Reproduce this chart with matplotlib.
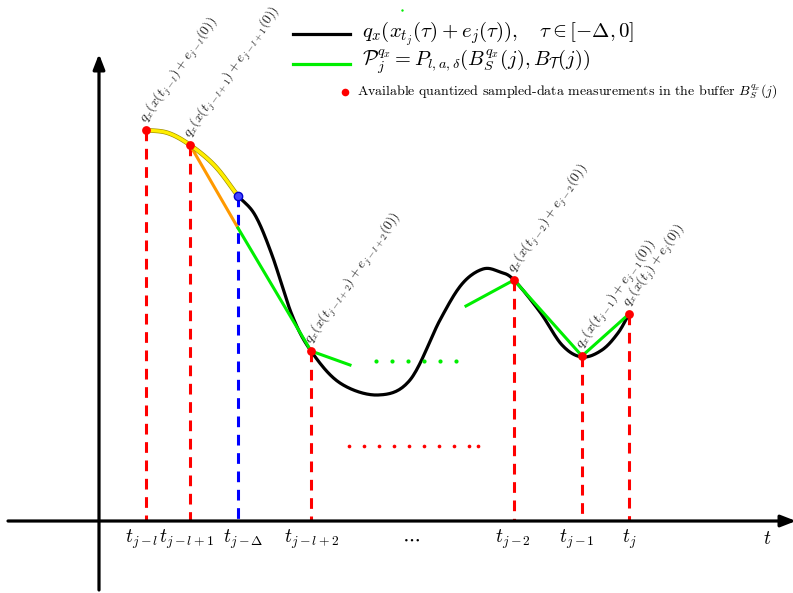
import numpy as np
import matplotlib
matplotlib.use("Agg")
import matplotlib.pyplot as plt
import matplotlib.patheffects as pe

plt.rcParams['mathtext.fontset'] = 'cm'
plt.rcParams['font.family'] = ['cmr10', 'DejaVu Serif']
plt.rcParams['axes.unicode_minus'] = False

# ---- data (pixel-space schematic) ----
sample_x = [146, 190, 311, 514, 582, 629]
sample_y = [130, 145, 351, 280, 356, 314]
sample_labels = [r'$q_x(x(t_{j-l})+e_{j-l}(0))$',
                 r'$q_x(x(t_{j-l+1})+e_{j-l+1}(0))$',
                 r'$q_x(x(t_{j-l+2})+e_{j-l+2}(0))$',
                 r'$q_x(x(t_{j-2})+e_{j-2}(0))$',
                 r'$q_x(x(t_{j-1})+e_{j-1}(0))$',
                 r'$q_x(x(t_{j})+e_{j}(0))$']
delta_x, delta_y = 238, 196

curve_x = [238, 255, 272, 292, 311, 340, 378, 410, 440, 462, 483, 500, 514, 540, 562, 582, 602, 618, 629]
curve_y = [196, 215, 255, 315, 351, 383, 395, 380, 320, 284, 269, 272, 280, 312, 345, 357, 350, 333, 314]

yellow_x = [146, 168, 190, 215, 238]
yellow_y = [130, 133, 145, 166, 196]

orange_x = [190, 238]
orange_y = [145, 228]

green1_x = [238, 311, 350]
green1_y = [228, 351, 365]
green2_x = [466, 514, 582, 629]
green2_y = [306, 280, 356, 314]
green_dots_x = [376, 392, 408, 424, 440, 456]
green_dots_y = [361] * 6
red_dots_x = [349, 364, 379, 394, 409, 424, 439, 454, 469, 478]
red_dots_y = [446] * 10

tick_x = [142, 187, 243, 312, 411, 513, 577, 629, 767]
tick_labels = [r'$t_{j-l}$', r'$t_{j-l+1}$', r'$t_{j-\Delta}$', r'$t_{j-l+2}$', r'$\cdots$',
               r'$t_{j-2}$', r'$t_{j-1}$', r'$t_j$', r'$t$']

legend_labels = [r'$q_x(x_{t_j}(\tau)+e_j(\tau)),\quad \tau\in[-\Delta,0]$',
                 r'$\mathcal{P}_j^{q_x}=P_{l,a,\delta}(B_S^{q_x}(j),B_{\mathcal{T}}(j))$',
                 r'Available quantized sampled-data measurements in the buffer $B_S^{q_x}(j)$']

AXIS_Y = 521
AXIS_X = 99


def catmull(xs, ys, n=20):
    P = np.column_stack([xs, ys]).astype(float)
    P = np.vstack([2 * P[0] - P[1], P, 2 * P[-1] - P[-2]])
    out = []
    for i in range(1, len(P) - 2):
        p0, p1, p2, p3 = P[i - 1], P[i], P[i + 1], P[i + 2]
        t = np.linspace(0, 1, n, endpoint=False)[:, None]
        pts = 0.5 * ((2 * p1) + (-p0 + p2) * t + (2 * p0 - 5 * p1 + 4 * p2 - p3) * t ** 2
                     + (-p0 + 3 * p1 - 3 * p2 + p3) * t ** 3)
        out.append(pts)
    out.append(P[-2][None, :])
    out = np.vstack(out)
    return out[:, 0], out[:, 1]


fig = plt.figure(figsize=(7.93, 5.93), dpi=100)
ax = fig.add_axes([0, 0, 1, 1])
ax.set_xlim(0, 793)
ax.set_ylim(593, 0)
ax.axis('off')

# axes arrows
ax.annotate('', xy=(796, AXIS_Y), xytext=(8, AXIS_Y), annotation_clip=False,
            arrowprops=dict(arrowstyle='-|>,head_length=0.9,head_width=0.35', lw=2.3, color='black',
                            shrinkA=0, shrinkB=0))
ax.annotate('', xy=(AXIS_X, 54), xytext=(AXIS_X, 590), annotation_clip=False,
            arrowprops=dict(arrowstyle='-|>,head_length=0.9,head_width=0.35', lw=2.3, color='black',
                            shrinkA=0, shrinkB=0))

# vertical dashed drop lines
for x, y in zip(sample_x, sample_y):
    ax.plot([x, x], [y, AXIS_Y], color='red', lw=2.2, ls=(0, (3.5, 2.5)), zorder=2)
ax.plot([delta_x, delta_x], [delta_y, AXIS_Y], color='blue', lw=2.2, ls=(0, (3.5, 2.5)), zorder=2)

# black curve
cx, cy = catmull(curve_x, curve_y)
ax.plot(cx, cy, color='black', lw=2.3, zorder=3)

# yellow curve
yx, yy = catmull(yellow_x, yellow_y)
ax.plot(yx, yy, color='#ffee00', lw=2.4, zorder=4,
        path_effects=[pe.Stroke(linewidth=3.3, foreground='#9a8a00'), pe.Normal()])

# orange line
ax.plot(orange_x, orange_y, color='#ff9900', lw=2.2, zorder=3)

# green lines
ax.plot(green1_x, green1_y, color='#00ee00', lw=2.2, zorder=4)
ax.plot(green2_x, green2_y, color='#00ee00', lw=2.2, zorder=4)
ax.scatter(green_dots_x, green_dots_y, s=9, color='#00ee00', zorder=4, linewidths=0)
ax.scatter(red_dots_x, red_dots_y, s=7, color='red', zorder=4, linewidths=0)
ax.scatter([402], [10], s=3, color='#00ee00', linewidths=0)

# sample points
ax.scatter(sample_x, sample_y, s=40, color='red', zorder=5, linewidths=0)
ax.scatter([delta_x], [delta_y], s=36, facecolor='#4444ff', edgecolor='#0000cc', zorder=5, linewidths=1)

# rotated labels
for x, y, lab in zip(sample_x, sample_y, sample_labels):
    ax.text(x + 5, y - 3, lab, rotation=55, rotation_mode='anchor', ha='left', va='bottom',
            fontsize=10, color='#222222')

# tick labels
for x, lab in zip(tick_x, tick_labels):
    ax.text(x, 539, lab, ha='center', va='center', fontsize=14)

# legend
ax.plot([293, 350], [34, 34], color='black', lw=2.3)
ax.text(362, 34, legend_labels[0], ha='left', va='center', fontsize=15)
ax.plot([293, 350], [64, 64], color='#00ee00', lw=2.3)
ax.text(362, 62, legend_labels[1], ha='left', va='center', fontsize=14.7)
ax.scatter([345], [92], s=30, color='red', linewidths=0)
ax.text(357, 92, legend_labels[2], ha='left', va='center', fontsize=10)

fig.savefig('out.png', dpi=100)
